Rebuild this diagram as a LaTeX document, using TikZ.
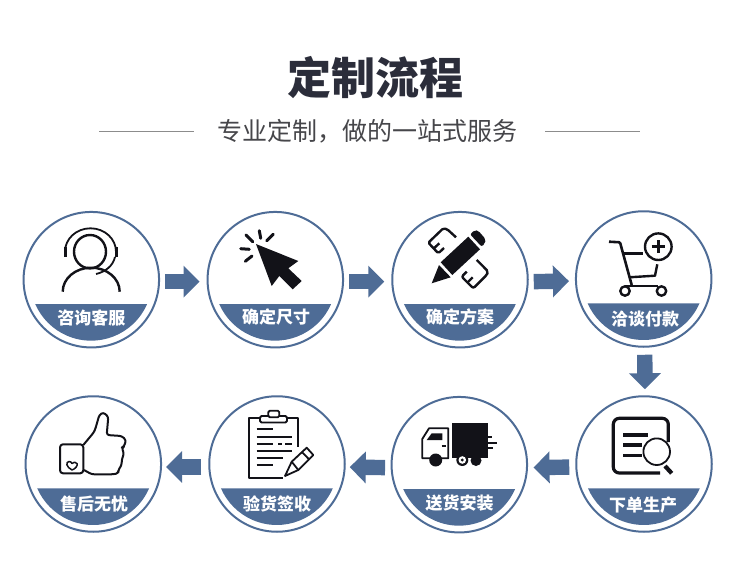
\documentclass[tikz,border=0pt]{standalone}
\usepackage{fontspec}
\setmainfont{Noto Sans CJK SC}
\usepackage{tikz}
\usetikzlibrary{arrows.meta}
\definecolor{stepblue}{RGB}{78,108,150}
\definecolor{titleink}{RGB}{43,45,58}
\definecolor{subink}{RGB}{70,70,74}
\definecolor{ruleink}{RGB}{140,140,140}
\definecolor{iconink}{RGB}{18,18,24}
\newcommand{\StepBanner}[1]{\fill[stepblue] (#1.center) ++(55.8,24.3) arc[start angle=23.5,end angle=156.5,radius=61] -- cycle;}

\begin{document}
\begin{tikzpicture}[x=1pt,y=1pt,yscale=-1]
	\tikzstyle{stepcircle} = [draw=stepblue, line width=2pt, circle, minimum size=135.5pt, inner sep=0pt, outer sep=0pt]
	\tikzstyle{steplabel} = [text=white, font=\fontsize{17}{17}\selectfont\bfseries, inner sep=0pt]
	\tikzstyle{flowline} = [draw=stepblue, line width=15.4pt, -{Triangle[length=16pt,width=31pt]}]
	\tikzstyle{ruleline} = [draw=ruleink, line width=1.2pt]
	\tikzstyle{icon} = [draw=iconink, line width=2.4pt, line join=round]
	\tikzstyle{iconthin} = [draw=iconink, line width=1.8pt, line join=round]
	\tikzstyle{iconfill} = [fill=iconink, line join=round]
	\tikzstyle{spark} = [draw=iconink, line width=3pt, line cap=round]

	\useasboundingbox (0,0) rectangle (750,578);

	% title
	\node(title)[text=titleink, font=\fontsize{44}{44}\selectfont\bfseries, inner sep=0pt] at (375.5,78) {定制流程};
	\node(subtitle)[text=subink, font=\fontsize{25}{25}\selectfont, inner sep=0pt] at (367,131.5) {专业定制，做的一站式服务};
	\coordinate(ruleLa) at (99,131.5);
	\coordinate(ruleLb) at (194,131.5);
	\coordinate(ruleRa) at (545,131.5);
	\coordinate(ruleRb) at (640,131.5);
	\draw[ruleline] (ruleLa) -- (ruleLb);
	\draw[ruleline] (ruleRa) -- (ruleRb);

	% circles
	\node(stepA)[stepcircle] at (91.3,279.7) {};
	\node(stepB)[stepcircle] at (275.3,279.7) {};
	\node(stepC)[stepcircle] at (460,279.7) {};
	\node(stepD)[stepcircle] at (643.7,279) {};
	\node(stepE)[stepcircle] at (644,464) {};
	\node(stepF)[stepcircle] at (459.3,464.7) {};
	\node(stepG)[stepcircle] at (277,464) {};
	\node(stepH)[stepcircle] at (93.3,464) {};

	% banners
	\StepBanner{stepA}
	\StepBanner{stepB}
	\StepBanner{stepC}
	\StepBanner{stepD}
	\StepBanner{stepE}
	\StepBanner{stepF}
	\StepBanner{stepG}
	\StepBanner{stepH}
	\node(labelA)[steplabel] at (91.3,318) {咨询客服};
	\node(labelB)[steplabel] at (276,317) {确定尺寸};
	\node(labelC)[steplabel] at (460,317) {确定方案};
	\node(labelD)[steplabel] at (645,319) {洽谈付款};
	\node(labelE)[steplabel] at (643,505) {下单生产};
	\node(labelF)[steplabel] at (459.5,503) {送货安装};
	\node(labelG)[steplabel] at (277,504) {验货签收};
	\node(labelH)[steplabel] at (94,504) {售后无忧};

	% arrows
	\draw[flowline, shorten <=5.7pt, shorten >=8pt] ([yshift=2pt]stepA.east) -- ([yshift=2pt]stepB.west);
	\draw[flowline, shorten <=6pt, shorten >=8pt] ([yshift=2pt]stepB.east) -- ([yshift=2pt]stepC.west);
	\draw[flowline, shorten <=6pt, shorten >=7pt] ([yshift=2pt]stepC.east) -- ([yshift=2pt]stepD.west);
	\draw[flowline, shorten <=8pt, shorten >=7pt] ([xshift=1pt]stepD.south) -- ([xshift=1pt]stepE.north);
	\draw[flowline, shorten <=7pt, shorten >=6.5pt] ([yshift=3pt]stepE.west) -- ([yshift=3pt]stepF.east);
	\draw[flowline, shorten <=6.5pt, shorten >=5pt] ([yshift=3pt]stepF.west) -- ([yshift=3pt]stepG.east);
	\draw[flowline, shorten <=8pt, shorten >=5pt] ([yshift=3pt]stepG.west) -- ([yshift=3pt]stepH.east);

	% headset
	\draw[icon] (90,251.7) ellipse [x radius=16, y radius=16.7];
	\draw[iconthin] (65,251.7) arc[start angle=180,end angle=360,x radius=25.5,y radius=23.4];
	\draw[icon, line width=3pt] (65,247) -- (65,257);
	\draw[icon, line width=3pt] (116,247) -- (116,257);
	\draw[iconthin] (115,257) .. controls (113,266) and (105,272) .. (96,274);
	\draw[icon] (62.7,291.7) arc[start angle=180,end angle=360,x radius=28.5,y radius=24];

	% cursor
	\fill[iconfill] (256,244) -- (298.3,261) -- (288.3,268.3) -- (301.7,281) -- (292.7,289.3) -- (279.3,276) -- (271.7,286) -- cycle;
	\draw[spark] (259.3,230.7) -- (260.7,238.3);
	\draw[spark] (273.3,234.3) -- (266.7,240.7);
	\draw[spark] (246,235) -- (252.7,241.7);
	\draw[spark] (240.7,248.7) -- (249.3,249.3);
	\draw[spark] (245.3,261.3) -- (252,256);

	% pencil and ruler
	\fill[iconfill] (431.7,283.3) -- (439,265) -- (450.7,277.3) -- cycle;
	\fill[iconfill] (440.7,262.3) -- (468.3,236.7) -- (480,249.3) -- (452.3,275) -- cycle;
	\fill[iconfill, rounded corners=2pt] (470,234.3) -- (475,230) -- (478.3,230.7) -- (485.7,239.3) -- (485,243.3) -- (481.7,246.7) -- cycle;
	\draw[icon, rounded corners=1.5pt] (456,237.3) -- (447.3,229.3) -- (443.3,228.3) -- (428.3,242.7) -- (438.3,253.3) -- (444,248);
	\draw[icon] (434,248.3) -- (439.3,243.3);
	\draw[icon, rounded corners=2pt] (476.7,260) -- (485,268.3) -- (488.3,271.7) -- (486.7,275) -- (473.3,288.3) -- (461.7,276.7) -- (466.7,271.7);
	\draw[icon] (467.7,282.3) -- (472.7,277.3);

	% cart
	\draw[icon, line width=2.6pt, rounded corners=1pt] (609,241.7) -- (620,242.3) -- (631.7,285);
	\draw[icon] (624,253.3) -- (642.7,253.3);
	\draw[icon] (629.3,277.3) -- (655,275.7) -- (657.3,264.3);
	\draw[icon] (625,286) -- (658.3,286);
	\draw[icon, fill=white] (625,291) circle [radius=4.7];
	\draw[icon, fill=white] (661.5,291) circle [radius=4.7];
	\draw[icon] (658.3,246.7) circle [radius=13.3];
	\draw[icon, line width=2.7pt] (651.7,246.7) -- (665,246.7);
	\draw[icon, line width=2.7pt] (658.3,240) -- (658.3,253.4);

	% document and lens
	\draw[icon, line width=3.2pt, rounded corners=6pt] (668.3,442) -- (668.3,418.3) -- (613.3,418.3) -- (613.3,473) -- (660,473);
	\draw[icon, line width=3.2pt] (623.3,435) -- (648.3,435);
	\draw[icon, line width=3.2pt] (623.3,445) -- (641.7,445);
	\draw[icon, line width=3.2pt] (623.3,455.7) -- (641.7,455.7);
	\draw[iconthin, fill=white] (656.7,451.7) circle [radius=13.3];
	\draw[icon, line width=4.2pt] (665,466) -- (671.7,473.3);

	% truck
	\fill[iconfill] (451.7,423.3) rectangle (488.3,458.3);
	\draw[iconthin] (422.3,458.3) -- (422.3,439) -- (429,428.3) -- (448.3,428.3) -- (448.3,458.3) -- cycle;
	\fill[iconfill] (426.7,440) -- (431.7,433.3) -- (442.3,433.3) -- (442.3,440) -- cycle;
	\draw[iconthin] (441.7,445.7) -- (445.7,445.7);
	\fill[iconfill] (435.7,460) circle [radius=6.5];
	\fill[iconfill] (476,460.5) circle [radius=5.5];
	\fill[iconfill] (462.3,460) circle [radius=6];
	\fill[white] (462.3,460) circle [radius=3.8];
	\fill[iconfill] (462.3,460) circle [radius=1.6];
	\draw[iconthin] (488.3,436.7) -- (492.3,436.7);
	\draw[iconthin] (488.3,442.7) -- (496.7,442.7);
	\draw[iconthin] (488.3,448.3) -- (493.3,448.3);

	% clipboard
	\draw[iconthin] (260,418.3) -- (249.3,418.3) -- (249.3,477.7) -- (282.7,477.7);
	\draw[iconthin] (286.7,418.3) -- (298.3,418.3) -- (298.3,446.7);
	\draw[iconthin, rounded corners=1.5pt] (260,416) rectangle (287,422.5);
	\draw[iconthin, fill=white, rounded corners=1.5pt] (268.3,410.7) rectangle (279.3,417.3);
	\draw[iconthin] (256.7,429.3) -- (272.7,429.3);
	\draw[iconthin] (256.7,436.7) -- (291.7,436.7);
	\draw[iconthin] (256.7,444) -- (273.3,444);
	\draw[iconthin] (278.3,444) -- (281.7,444);
	\draw[iconthin] (285,444) -- (291.7,444);
	\draw[iconthin] (256.7,450.7) -- (291.7,450.7);
	\draw[iconthin] (256.7,457.7) -- (283.3,457.7);
	\draw[iconthin] (256.7,465) -- (272.7,465);
	\draw[iconthin] (285,476) -- (291.7,461.7) -- (306.7,447.7) -- (313.3,455) -- (298.3,470) -- cycle;
	\draw[iconthin] (301.7,451.7) -- (309,459.3);
	\draw[iconthin] (291.7,461.7) -- (298.3,470);

	% thumb
	\draw[iconthin, line width=2pt, rounded corners=3pt] (60,444.3) rectangle (83.3,473.3);
	\draw[iconthin, line width=2pt, rounded corners=2.5pt] (83.3,445) -- (93.3,433) -- (95,430) -- (99.3,415) -- (103.3,412.3) -- (108.3,416.7) -- (106.7,435) -- (121.7,436) -- (126,440) -- (124,446.7) -- (121.7,447.7) -- (124,453.3) -- (121.7,460) -- (121.7,465) -- (118.3,470) -- (118.3,473.3) -- (113.3,474.3) -- (91.7,474.3) -- (84,470);
	\draw[iconthin, line width=1.5pt] (72,470) .. controls (66,467) and (65.5,462) .. (69,461.5) .. controls (70.5,461.3) and (71.5,462.5) .. (72,463.5) .. controls (73,462) and (76,461.5) .. (77,463.5) .. controls (78,466) and (75,469) .. (72,470) -- cycle;
\end{tikzpicture}
\end{document}
